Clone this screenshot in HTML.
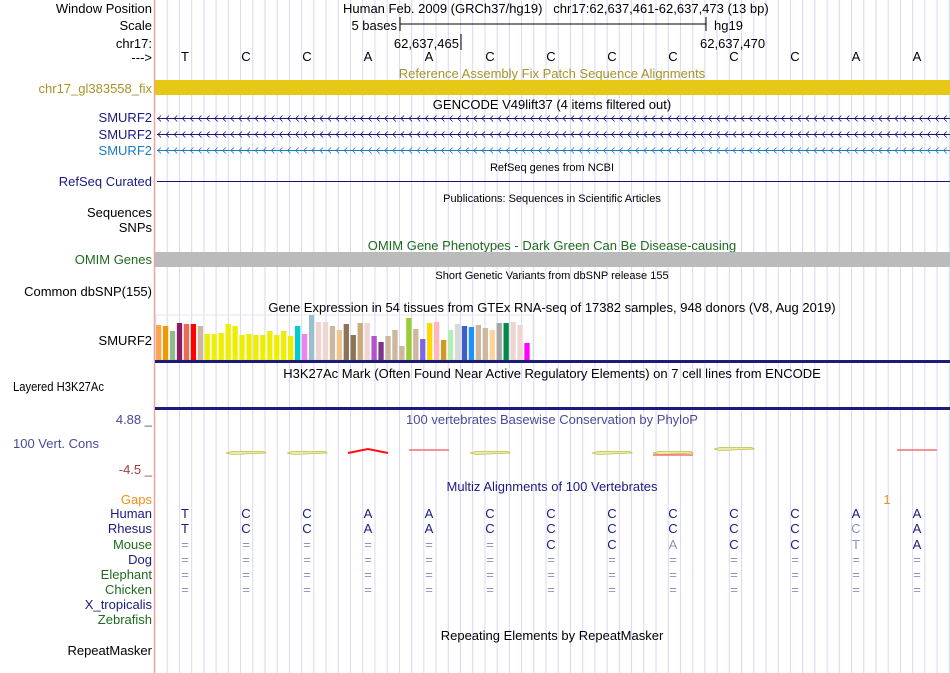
<!DOCTYPE html>
<html><head><meta charset="utf-8"><style>
body{margin:0;background:#fff;}
svg{display:block;font-family:"Liberation Sans",sans-serif;}
</style></head><body>
<svg id="s" width="950" height="673" viewBox="0 0 950 673">
<g id="grid"></g>
<line x1="154.5" y1="0" x2="154.5" y2="673" stroke="#f4a0a0" stroke-width="1.5"/>
<g font-size="13" text-anchor="end">
<text x="152" y="13" fill="#000">Window Position</text>
<text x="152" y="30" fill="#000">Scale</text>
<text x="152" y="48" fill="#000">chr17:</text>
<text x="152" y="62" fill="#000">---&gt;</text>
<text x="152" y="93" fill="#a8922a">chr17_gl383558_fix</text>
<text x="152" y="122" fill="#1a1a80">SMURF2</text>
<text x="152" y="139" fill="#1a1a80">SMURF2</text>
<text x="152" y="155" fill="#1a7ac0">SMURF2</text>
<text x="152" y="186" fill="#1a1a80">RefSeq Curated</text>
<text x="152" y="217" fill="#000">Sequences</text>
<text x="152" y="232" fill="#000">SNPs</text>
<text x="152" y="264" fill="#1e6b1e">OMIM Genes</text>
<text x="152" y="296" fill="#000">Common dbSNP(155)</text>
<text x="152" y="345" fill="#000">SMURF2</text>
<text x="13" y="391" fill="#000" text-anchor="start" textLength="91" lengthAdjust="spacingAndGlyphs">Layered H3K27Ac</text>
<text x="152" y="424" fill="#4a4a98">4.88 _</text>
<text x="99" y="448" fill="#4a4a98">100 Vert. Cons</text>
<text x="152" y="474" fill="#a04040">-4.5 _</text>
<text x="152" y="504" fill="#f0901e">Gaps</text>
<text x="152" y="518" fill="#1a1a80">Human</text>
<text x="152" y="533" fill="#1a1a80">Rhesus</text>
<text x="152" y="549" fill="#1e6b1e">Mouse</text>
<text x="152" y="564" fill="#1a1a80">Dog</text>
<text x="152" y="579" fill="#1e6b1e">Elephant</text>
<text x="152" y="594" fill="#1e6b1e">Chicken</text>
<text x="152" y="609" fill="#1a1a80">X_tropicalis</text>
<text x="152" y="624" fill="#1e6b1e">Zebrafish</text>
<text x="152" y="655" fill="#000">RepeatMasker</text>
</g>
<g font-size="13" text-anchor="middle">
<text x="343" y="13" text-anchor="start">Human Feb. 2009 (GRCh37/hg19)&#160;&#160;&#160;chr17:62,637,461-62,637,473 (13 bp)</text>
<text x="397" y="30" text-anchor="end">5 bases</text>
<text x="714" y="30" text-anchor="start">hg19</text>
<text x="459" y="48" text-anchor="end">62,637,465</text>
<text x="700" y="48" text-anchor="start">62,637,470</text>
<text x="552" y="78" fill="#a8922a">Reference Assembly Fix Patch Sequence Alignments</text>
<text x="552" y="109">GENCODE V49lift37 (4 items filtered out)</text>
<text x="552" y="171" font-size="11">RefSeq genes from NCBI</text>
<text x="552" y="202" font-size="11">Publications: Sequences in Scientific Articles</text>
<text x="552" y="250" fill="#1e6b1e">OMIM Gene Phenotypes - Dark Green Can Be Disease-causing</text>
<text x="552" y="279" font-size="11">Short Genetic Variants from dbSNP release 155</text>
<text x="552" y="312">Gene Expression in 54 tissues from GTEx RNA-seq of 17382 samples, 948 donors (V8, Aug 2019)</text>
<text x="552" y="378">H3K27Ac Mark (Often Found Near Active Regulatory Elements) on 7 cell lines from ENCODE</text>
<text x="552" y="424" fill="#4a4a98">100 vertebrates Basewise Conservation by PhyloP</text>
<text x="552" y="491" fill="#1a1a80">Multiz Alignments of 100 Vertebrates</text>
<text x="887" y="504" fill="#f0901e">1</text>
<text x="552" y="640">Repeating Elements by RepeatMasker</text>
</g>
<g stroke="#000">
<line x1="400" y1="24" x2="706" y2="24"/><line x1="400" y1="17" x2="400" y2="31"/><line x1="706" y1="17" x2="706" y2="31"/>
<line x1="461" y1="34" x2="461" y2="50"/>
</g>
<rect x="155" y="80" width="795" height="15" fill="#e6c817"/>
<rect x="155" y="252" width="795" height="15" fill="#bbbbbb"/>
<line x1="157" y1="181.5" x2="950" y2="181.5" stroke="#14147a"/>
<g id="genes"></g>
<rect x="156" y="315" width="377" height="45" fill="none" stroke="#e4e4e4"/>
<g id="gtex"></g>
<rect x="155" y="360" width="795" height="3" fill="#1c1c78"/>
<rect x="155" y="407" width="795" height="3" fill="#1c1c78"/>
<g id="cons"></g>
<g id="bases" font-size="13" text-anchor="middle"></g>
</svg>
<script>
const NS='http://www.w3.org/2000/svg';
const baseSeq=['T','C','C','A','A','C','C','C','C','C','C','A','A'];
const rhesusSeq=['T','C','C','A','A','C','C','C','C','C','C','C','A'];
const rhesusLight=[0,0,0,0,0,0,0,0,0,0,0,1,0];
const mouseSeq=['=','=','=','=','=','=','C','C','A','C','C','T','A'];
const mouseLight=[1,1,1,1,1,1,0,0,1,0,0,1,0];
const consType=['','olive','olive','redhump','red','olive','','olive','olivered','oliveup','','','red'];
const gtexValues=[35,34,29,37,36,36,34,26,26,27,36,34,25,26,25,25,29,25,29,24,34,26,45,38,38,34,30,36,25,37,37,24,18,24,30,14,42,31,21,37,38,20,30,36,34,33,35,32,30,37,37,38,35,17];
const gtexColors=['#FFA54F','#EE9A00','#8FBC8F','#8B1C62','#EE6A50','#FF0000','#CDB79E','#EEEE00','#EEEE00','#EEEE00','#EEEE00','#EEEE00','#EEEE00','#EEEE00','#EEEE00','#EEEE00','#EEEE00','#EEEE00','#EEEE00','#EEEE00','#00CDCD','#EE82EE','#9AC0CD','#EED5D2','#EED5D2','#CDB79E','#EEC591','#8B7355','#8B7355','#CDAA7D','#EED5D2','#B452CD','#7A378B','#CDB79E','#CDB79E','#CDB79E','#9ACD32','#CDB79E','#7A67EE','#FFD700','#FFB6C1','#CD9B1D','#B4EEB4','#D9D9D9','#3A5FCD','#1E90FF','#CDB79E','#CDB79E','#FFD39B','#A6A6A6','#008B45','#EED5D2','#EED5D2','#FF00FF'];
const s=document.getElementById('s');
function mk(tag,attrs,parent){const e=document.createElementNS(NS,tag);for(const k in attrs)e.setAttribute(k,attrs[k]);(parent||s).appendChild(e);return e;}
const baseX=i=>185+61*i;
const barX=i=>156+6.95*i;
const gtexMax=45, gtexBase=360;
const barH=v=>v/gtexMax*45;
const g=document.getElementById('grid');
for(let k=1;k<66;k++){const l=mk('line',{x1:155+12.22*k,x2:155+12.22*k,y1:0,y2:673,stroke:'#d8d8f2'},g);

}
const gn=document.getElementById('genes');
[[118,'#14147a'],[134,'#14147a'],[150,'#1a7ac0']].forEach((r,j)=>{
 const y=r[0]+0.5;
 const l=mk('line',{x1:157,x2:950,y1:y,y2:y,stroke:r[1]},gn);
 
 
 let d='';for(let x=158;x<950;x+=8.1){d+=`M${x+3} ${y-3}L${x} ${y}L${x+3} ${y+3}`;}
 const p=mk('path',{d:d,stroke:r[1],fill:'none','stroke-width':0.8},gn);
 
 
});
const gt=document.getElementById('gtex');
gtexValues.forEach((v,i)=>{const h=barH(v);
 const r=mk('rect',{x:barX(i),y:gtexBase-h,width:5.3,height:h,fill:gtexColors[i]},gt);
 
 });
const b=document.getElementById('bases');
function txt(x,y,t,fill){const e=mk('text',{x:x,y:y,fill:fill},b);e.textContent=t;return e;}
baseSeq.forEach((c,i)=>{const x=baseX(i);
 let e=txt(x,61,c,'#000');
 e=txt(x,518,c,'#1a1a80');
 e=txt(x,533,rhesusSeq[i],rhesusLight[i]?'#9090c0':'#1a1a80');
 e=txt(x,549,mouseSeq[i],mouseLight[i]?'#9090c0':'#1a1a80');
 [564,579,594].forEach(y=>{e=txt(x,y,'=','#9090c0');});
});
const cg=document.getElementById('cons');
consType.forEach((t,i)=>{if(!t)return;const x=baseX(i);let y=453;
 if(t==='oliveup')y=449;
 let e;
 if(t==='redhump'){e=mk('path',{d:`M${x-20} ${y}L${x} ${y-4}L${x+20} ${y}`,stroke:'#ff1010','stroke-width':2,fill:'none'},cg);}
 else if(t==='red'){e=mk('line',{x1:x-20,x2:x+20,y1:y-3,y2:y-3,stroke:'#f47070','stroke-width':1.5},cg);}
 else{e=mk('path',{d:`M${x-20} ${y}L${x-14} ${y-1.5}L${x+18} ${y-1.5}L${x+20} ${y}L${x-14} ${y+1.5}Z`,stroke:'#c0c040','stroke-width':0.8,fill:'#ecECb0'},cg);
  if(t==='olivered'){const r=mk('line',{x1:x-20,x2:x+20,y1:y+2,y2:y+2,stroke:'#f47070','stroke-width':1.5},cg);}}
 
 
});
</script>
</body></html>
